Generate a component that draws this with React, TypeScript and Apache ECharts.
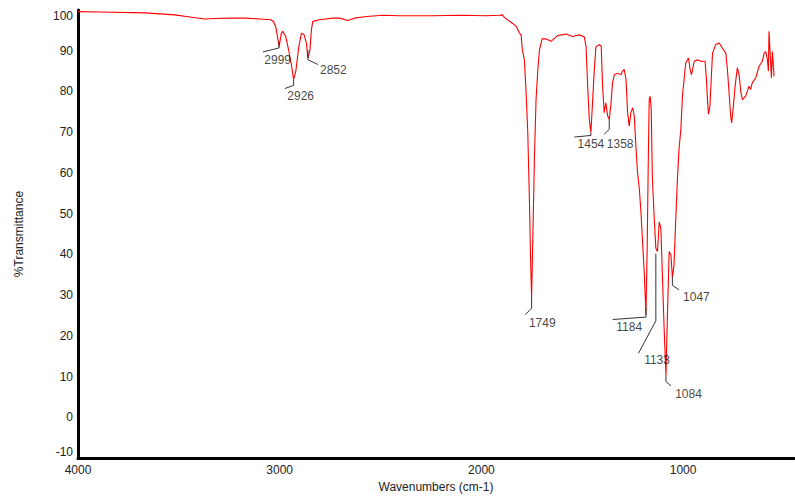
import { useEffect, useRef } from "react";
import * as echarts from "echarts";

// IR spectrum: [wavenumber (cm-1), %Transmittance]
const SPECTRUM: [number, number][] = [
  [4000, 99.6], [3891, 99.5], [3668, 99.3], [3520, 98.8], [3445, 98.3],
  [3371, 97.8], [3322, 97.9], [3247, 98.0], [3173, 98.0], [3099, 97.8],
  [3044, 97.6], [3030, 97.1], [3020, 95.9], [3010, 93.2], [3003, 91.0],
  [2992, 94.2], [2985, 94.8], [2970, 93.5], [2955, 90.0], [2940, 86.0],
  [2931, 82.9], [2920, 85.0], [2905, 91.0], [2892, 94.3], [2880, 94.0],
  [2868, 92.0], [2860, 88.2], [2850, 90.0], [2843, 95.0], [2836, 97.2],
  [2802, 97.6], [2737, 98.0], [2703, 98.0], [2663, 97.4], [2629, 98.0],
  [2569, 98.4], [2490, 98.7], [2406, 98.6], [2242, 98.6], [2100, 98.7],
  [1975, 98.6], [1911, 98.7], [1896, 98.8], [1886, 98.2], [1871, 97.6],
  [1845, 96.7], [1826, 95.9], [1812, 94.4], [1803, 93.9], [1797, 90.2],
  [1787, 87.8], [1779, 80.5], [1770, 70.0], [1762, 53.7], [1755, 36.6],
  [1751, 29.5], [1746, 41.5], [1737, 63.4], [1729, 78.0], [1720, 85.4],
  [1712, 90.2], [1699, 92.9], [1679, 92.9], [1655, 92.3], [1622, 93.7],
  [1580, 94.1], [1548, 93.5], [1515, 93.9], [1490, 93.4], [1481, 91.0],
  [1473, 81.3], [1465, 73.2], [1457, 69.9], [1449, 77.2], [1440, 85.4],
  [1432, 91.0], [1415, 91.5], [1406, 91.1], [1399, 81.3], [1391, 74.8],
  [1383, 77.2], [1374, 74.0], [1366, 73.2], [1357, 77.2], [1350, 82.1],
  [1341, 84.1], [1325, 84.5], [1308, 84.1], [1300, 85.0], [1292, 85.4],
  [1283, 83.0], [1275, 74.8], [1267, 71.5], [1259, 74.8], [1250, 76.0],
  [1242, 74.0], [1234, 66.7], [1226, 60.2], [1217, 56.1], [1209, 50.5],
  [1201, 43.2], [1193, 35.9], [1184, 25.2], [1178, 41.5], [1173, 61.0],
  [1168, 78.0], [1163, 78.8], [1158, 75.6], [1152, 58.5], [1143, 48.8],
  [1135, 41.5], [1127, 40.7], [1118, 48.0], [1110, 46.3], [1102, 34.1],
  [1094, 22.0], [1085, 10.2], [1077, 26.1], [1069, 40.7], [1060, 39.8],
  [1053, 34.3], [1045, 37.3], [1037, 47.6], [1028, 58.5], [1020, 65.9],
  [1011, 70.7], [1003, 78.9], [995, 82.9], [987, 87.0], [973, 88.2],
  [965, 85.4], [958, 84.1], [945, 87.4], [929, 87.8], [912, 87.4],
  [891, 87.4], [884, 83.0], [879, 78.0], [874, 74.4], [867, 76.4],
  [862, 81.3], [854, 89.4], [838, 91.5], [821, 91.9], [805, 90.6],
  [788, 89.4], [780, 85.4], [772, 79.7], [764, 74.0], [759, 72.3],
  [752, 75.6], [742, 81.3], [731, 85.8], [722, 84.1], [714, 80.0],
  [706, 78.0], [689, 78.9], [673, 81.3], [665, 80.5], [657, 82.1],
  [640, 83.3], [623, 86.2], [607, 87.4], [598, 89.4], [590, 89.8],
  [582, 87.8], [577, 85.0], [574, 94.8], [569, 90.2], [562, 83.3],
  [557, 89.8], [549, 83.7],
];

const PEAK_LABELS = ["2999", "2926", "2852", "1749", "1454", "1358", "1184", "1133", "1084", "1047"];

// label text centres, in data units
const PEAK_TEXT: [number, number][] = [
  [3010, 87.8], [2896, 78.9], [2734, 85.2], [1698, 23.2], [1457, 67.1],
  [1312, 67.1], [1267, 22.1], [1129, 14.0], [973, 5.7], [934, 29.5],
];

// leader lines, in data units
const PEAK_LEADERS: [number, number][][] = [
  [[3003, 92.3], [3003, 90.7], [3083, 89.7]],
  [[2931, 82.9], [2931, 81.5], [2975, 80.7]],
  [[2860, 90.2], [2860, 87.8], [2810, 86.6]],
  [[1751, 29.7], [1751, 26.8], [1782, 25.2]],
  [[1457, 69.9], [1457, 69.2], [1539, 68.8]],
  [[1366, 73.2], [1366, 70.7], [1391, 69.5]],
  [[1184, 26.8], [1184, 24.6], [1349, 24.0]],
  [[1135, 40.2], [1135, 23.7], [1221, 15.7]],
  [[1085, 10.2], [1085, 8.8], [1060, 7.7]],
  [[1053, 34.6], [1053, 32.4], [1020, 31.3]],
];

const X_TICKS = [4000, 3000, 2000, 1000];
const X_MIN = 450;
const X_MAX = 4000;
const Y_MIN = -10;
const Y_MAX = 100;

const FONT = "'Liberation Sans', Arial, sans-serif";

export default function App() {
  const ref = useRef<HTMLDivElement>(null);

  useEffect(() => {
    if (!ref.current) return;
    const chart = echarts.init(ref.current, undefined, { renderer: "svg" });

    const leaderSeries = PEAK_LEADERS.map((pts) => ({
      type: "line",
      data: pts,
      showSymbol: false,
      symbol: "none",
      silent: true,
      z: 3,
      lineStyle: { color: "#333", width: 1 },
    }));

    chart.setOption({
      animation: false,
      grid: { left: 78, right: 1, top: 10, bottom: 37, containLabel: false },
      xAxis: {
        type: "value",
        inverse: true,
        min: X_MIN,
        max: X_MAX,
        name: "Wavenumbers (cm-1)",
        nameLocation: "middle",
        nameGap: 23,
        nameTextStyle: { fontFamily: FONT, fontSize: 12, color: "#222" },
        axisLine: { show: true, onZero: false, lineStyle: { color: "#000", width: 3 } },
        axisTick: { show: false },
        splitLine: { show: false },
        axisLabel: {
          customValues: X_TICKS,
          formatter: (v: number) => String(v),
          fontFamily: FONT,
          fontSize: 12,
          color: "#222",
          margin: 6,
        },
      },
      yAxis: {
        type: "value",
        min: Y_MIN,
        max: Y_MAX,
        interval: 10,
        name: "%Transmittance",
        nameLocation: "middle",
        nameGap: 53,
        nameTextStyle: { fontFamily: FONT, fontSize: 12, color: "#222" },
        axisLine: { show: true, onZero: false, lineStyle: { color: "#000", width: 3 } },
        axisTick: { show: false },
        splitLine: { show: false },
        axisLabel: {
          fontFamily: FONT,
          fontSize: 12,
          color: "#222",
          margin: 5,
          verticalAlignMaxLabel: "top",
          verticalAlignMinLabel: "bottom",
        },
      },
      series: [
        {
          type: "line",
          data: SPECTRUM,
          showSymbol: false,
          symbol: "none",
          silent: true,
          z: 2,
          lineStyle: { color: "#ff0000", width: 1.1 },
        },
        ...leaderSeries,
        {
          type: "scatter",
          data: PEAK_TEXT.map((p, i) => ({ value: p, name: PEAK_LABELS[i] })),
          symbol: "circle",
          symbolSize: 1,
          itemStyle: { color: "rgba(0,0,0,0)" },
          silent: true,
          z: 4,
          label: {
            show: true,
            position: "inside",
            formatter: "{b}",
            fontFamily: FONT,
            fontSize: 12,
            color: "#111",
          },
        },
      ],
    });

    return () => chart.dispose();
  }, []);

  return (
    <div
      ref={ref}
      style={{ position: "fixed", left: 0, top: 0, width: 795, height: 498, background: "#fff" }}
    />
  );
}
